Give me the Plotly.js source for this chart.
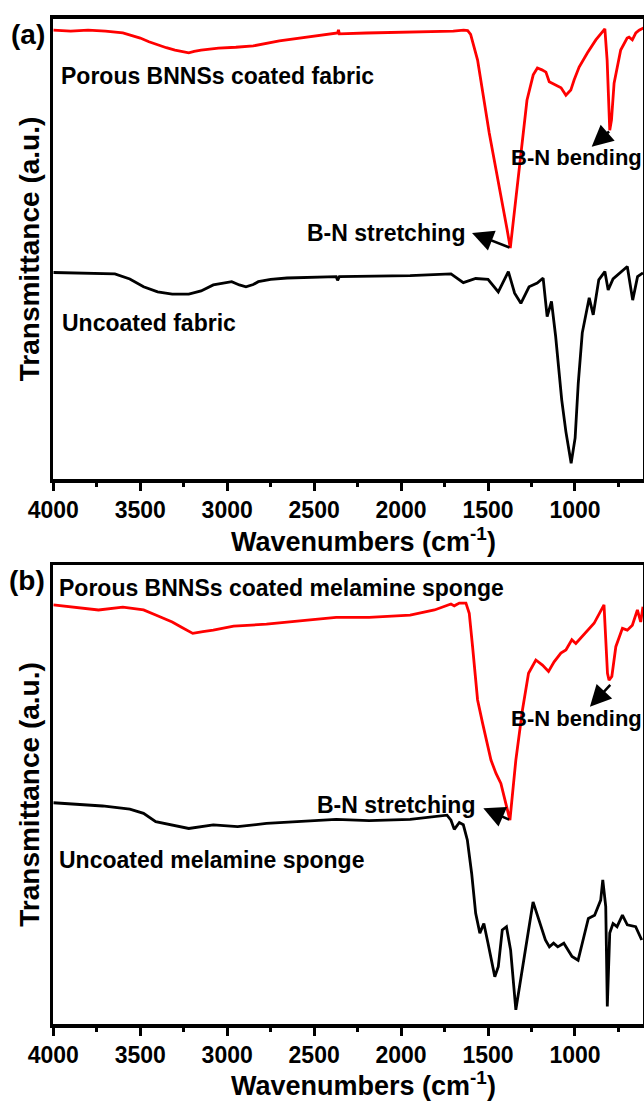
<!DOCTYPE html>
<html>
<head>
<meta charset="utf-8">
<script src="https://cdn.plot.ly/plotly-3.0.1.min.js"></script>
<style>html,body{margin:0;padding:0;background:#fff;}#chart{width:644px;height:1102px;}</style>
</head>
<body>
<div id="chart"></div>
<script>
// ---- Panel (a): fabric ----
const fabricCoatedWn = [4000,3900,3800,3700,3600,3550,3500,3450,3400,3350,3300,3250,3221,3190,3150,3100,3050,2950,2850,2700,2538,2400,2365,2360,2355,2200,2000,1800,1700,1640,1617,1600,1560,1493,1430,1390,1372,1350,1320,1276,1240,1216,1190,1167,1148,1110,1080,1052,1024,1005,976,928,880,828,815,800,790,775,737,700,689,670,650,631,600];
const fabricCoatedT  = [97.5,97.3,97.5,97.3,96.9,96.4,95.8,95.0,94.3,93.7,93.2,92.9,92.6,92.9,93.2,93.4,93.6,93.8,94.1,95.2,96.0,96.7,96.9,97.6,96.7,96.9,97.0,97.1,97.3,97.5,97.4,96.6,91.0,75.2,62.8,54.2,50.2,57.4,67.8,82.3,87.8,89.3,88.9,88.4,86.3,85.6,85.0,83.4,84.5,86.7,89.5,92.6,95.4,97.8,91.0,75.8,78.0,86.0,93.2,95.8,96.0,95.4,96.9,97.5,98.1];

const fabricUncoatedWn = [4000,3800,3646,3560,3481,3400,3316,3221,3150,3080,3000,2974,2930,2892,2850,2821,2750,2656,2373,2365,2355,1948,1713,1642,1571,1500,1441,1383,1347,1311,1264,1217,1183,1160,1135,1111,1076,1052,1022,999,981,958,918,895,863,828,809,781,699,668,640,609];
const fabricUncoatedT  = [44.9,44.7,44.6,43.5,41.8,40.7,40.2,40.2,40.9,42.2,42.8,42.9,42.2,41.8,42.3,42.9,43.4,43.7,44.0,43.2,44.0,44.2,44.6,42.7,43.6,43.4,40.7,45.1,40.4,38.2,41.8,42.6,43.7,35.3,38.6,31.0,17.2,10.3,3.5,9.0,20.9,31.8,39.4,35.7,43.3,45.1,41.1,43.5,46.2,38.9,44.0,44.8];

// ---- Panel (b): melamine sponge ----
const spongeCoatedWn = [4000,3882,3740,3600,3481,3411,3360,3316,3260,3198,3140,3080,2963,2774,2538,2373,2184,1948,1808,1713,1694,1665,1627,1608,1589,1560,1531,1483,1454,1426,1407,1374,1340,1302,1267,1225,1187,1152,1120,1081,1052,1018,995,976,938,890,833,813,804,788,765,727,699,670,641,622,609];
const spongeCoatedT  = [91.3,90.8,90.2,90.8,90.2,89.1,88.3,87.6,86.4,85.1,85.5,85.8,86.7,87.1,88.0,88.6,88.6,89.1,90.2,91.5,91.1,91.7,91.7,89.5,82.3,70.6,65.5,57.5,54.6,52.4,49.5,44.4,57.5,68.4,76.4,79.3,78.2,76.8,78.9,80.8,81.5,83.7,82.9,83.7,85.5,87.3,91.3,76.4,74.9,75.7,82.2,86.2,85.8,86.9,90.2,87.6,90.9];

const spongeUncoatedWn = [4000,3717,3560,3481,3411,3316,3221,3080,2940,2774,2538,2373,2184,1948,1736,1713,1694,1665,1642,1619,1594,1571,1547,1524,1500,1461,1441,1418,1394,1370,1340,1311,1276,1241,1206,1170,1147,1123,1099,1064,1017,982,958,923,887,852,840,823,814,800,781,758,727,699,651,616];
const spongeUncoatedT  = [48.2,47.5,46.8,45.9,44.1,43.4,42.6,43.4,43.0,43.7,44.3,44.6,44.3,44.6,45.5,44.4,42.4,43.9,43.4,40.1,32.8,24.1,19.8,21.9,17.6,10.3,12.5,20.5,21.2,16.1,3.1,9.6,18.3,26.6,22.7,18.3,16.8,17.6,16.8,17.6,14.7,13.9,17.6,23.0,23.7,27.0,31.4,25.6,3.8,19.8,21.9,21.2,23.7,21.6,21.2,18.3];

const xTickVals = [4000,3500,3000,2500,2000,1500,1000];
const xTickText = ['4000','3500','3000','2500','2000','1500','1000'];

const FONT = 'Liberation Sans, Arial, sans-serif';
const bold = (size) => ({family: FONT, size: size, color: '#000', weight: 'bold'});

function line(x, y, color, xa, ya) {
  return {x: x, y: y, type: 'scatter', mode: 'lines', xaxis: xa, yaxis: ya,
          line: {color: color, width: 2.8}, showlegend: false, hoverinfo: 'skip'};
}

const data = [
  line(fabricCoatedWn, fabricCoatedT, '#ff0000', 'x', 'y'),
  line(fabricUncoatedWn, fabricUncoatedT, '#000000', 'x', 'y'),
  line(spongeCoatedWn, spongeCoatedT, '#ff0000', 'x2', 'y2'),
  line(spongeUncoatedWn, spongeUncoatedT, '#000000', 'x2', 'y2')
];

const W = 644, H = 1102;
const xDom = [53.3 / W, 643.3 / W];
const yDomA = [1 - 479.3 / H, 1 - 18.7 / H];
const yDomB = [1 - 1024 / H, 1 - 565 / H];

function xAxis(anchor) {
  return {
    domain: xDom, anchor: anchor, range: [4000, 607],
    showline: true, mirror: true, linecolor: '#000', linewidth: 3.5,
    showgrid: false, zeroline: false,
    ticks: 'outside', ticklen: 8, tickwidth: 3, tickcolor: '#000',
    tickvals: xTickVals, ticktext: xTickText,
    minor: {ticks: 'outside', dtick: 250, tick0: 0, ticklen: 4, tickwidth: 3, tickcolor: '#000', showgrid: false},
    tickfont: bold(23)
  };
}
function yAxis(anchor, dom) {
  return {
    domain: dom, anchor: anchor, range: [0, 100],
    showline: true, mirror: true, linecolor: '#000', linewidth: 3.5,
    showgrid: false, zeroline: false, ticks: '', showticklabels: false,
    title: {text: 'Transmittance (a.u.)', font: bold(28), standoff: 3}
  };
}

function txt(xa, ya, x, y, text, anchor, size) {
  return {xref: xa, yref: ya, x: x, y: y, text: text, showarrow: false,
          xanchor: anchor || 'left', yanchor: 'middle', font: bold(size || 23)};
}
function arr(xa, ya, headX, headY, tailX, tailY) {
  return {xref: xa, yref: ya, axref: xa, ayref: ya, x: headX, y: headY, ax: tailX, ay: tailY,
          text: '', showarrow: true, arrowhead: 2, arrowsize: 1.7, arrowwidth: 2.5, arrowcolor: '#000'};
}

const xTitle = 'Wavenumbers (cm<sup>-1</sup>)';
const annotations = [
  {xref: 'paper', yref: 'paper', x: 47 / W, y: 1 - 34 / H, xanchor: 'right', yanchor: 'middle',
   text: '(a)', showarrow: false, font: bold(28)},
  {xref: 'paper', yref: 'paper', x: 47 / W, y: 1 - 580.5 / H, xanchor: 'right', yanchor: 'middle',
   text: '(b)', showarrow: false, font: bold(28)},
  {xref: 'paper', yref: 'paper', x: 363 / W, y: 1 - 540 / H, xanchor: 'center', yanchor: 'middle',
   text: xTitle, showarrow: false, font: bold(27)},
  {xref: 'paper', yref: 'paper', x: 363 / W, y: 1 - 1084 / H, xanchor: 'center', yanchor: 'middle',
   text: xTitle, showarrow: false, font: bold(27)},
  txt('x', 'y', 3970, 87.6, 'Porous BNNSs coated fabric'),
  txt('x', 'y', 3963, 33.9, 'Uncoated fabric'),
  txt('x', 'y', 1622, 53.5, 'B-N stretching', 'right'),
  arr('x', 'y', 1592, 53.5, 1368, 50.2),
  txt('paper', 'y', 1.0, 69.8, 'B-N bending', 'right', 22),
  arr('x', 'y', 904, 72.2, 795, 75.8),
  txt('x2', 'y2', 3981, 94.9, 'Porous BNNSs coated melamine sponge'),
  txt('x2', 'y2', 3981, 35.7, 'Uncoated melamine sponge'),
  txt('x2', 'y2', 1562, 47.7, 'B-N stretching', 'right'),
  arr('x2', 'y2', 1527, 47.0, 1370, 44.4),
  txt('paper', 'y2', 1.0, 66.6, 'B-N bending', 'right', 22),
  arr('x2', 'y2', 914, 69.1, 789, 74.2)
];

const layout = {
  width: W, height: H,
  margin: {l: 0, r: 0, t: 0, b: 0},
  paper_bgcolor: '#fff', plot_bgcolor: '#fff',
  font: bold(22),
  showlegend: false,
  xaxis: xAxis('y'),
  yaxis: yAxis('x', yDomA),
  xaxis2: xAxis('y2'),
  yaxis2: yAxis('x2', yDomB),
  annotations: annotations
};

Plotly.newPlot('chart', data, layout, {displayModeBar: false, staticPlot: true});
</script>
</body>
</html>
